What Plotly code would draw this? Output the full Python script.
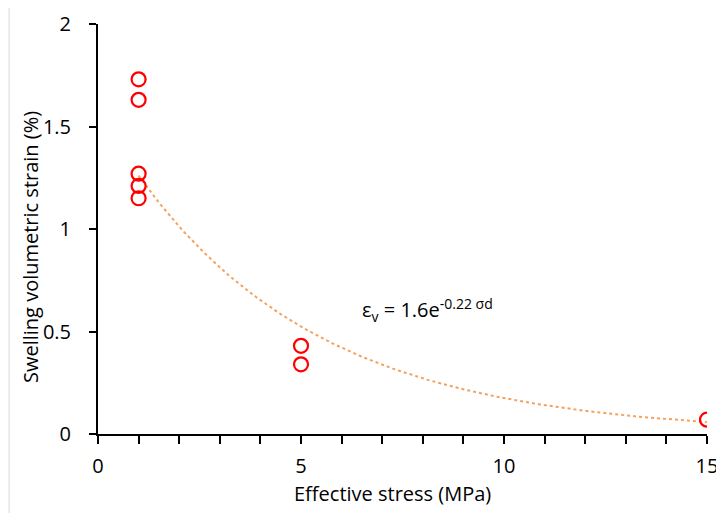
import numpy as np
import plotly.graph_objects as go

# Data
stress = [1, 1, 1, 1, 1, 5, 5, 15]
strain = [1.73, 1.63, 1.27, 1.21, 1.15, 0.43, 0.34, 0.07]
x_ticks = [0, 5, 10, 15]
y_ticks = [0, 0.5, 1, 1.5, 2]
y_tick_text = ["0", "0.5", "1", "1.5", "2"]

# Exponential trendline fitted to the data (as Excel does)
xs = np.array(stress, dtype=float)
ys = np.array(strain, dtype=float)
b, ln_a = np.polyfit(xs, np.log(ys), 1)
a = np.exp(ln_a)
fit_x = np.linspace(1, 15, 200)
fit_y = a * np.exp(b * fit_x)

font_family = "Open Sans"

fig = go.Figure()
fig.add_trace(go.Scatter(
    x=fit_x, y=fit_y, mode="lines",
    line=dict(color="#F4A15E", width=2, dash="dot"),
    hoverinfo="skip", showlegend=False))
fig.add_trace(go.Scatter(
    x=stress, y=strain, mode="markers",
    marker=dict(symbol="circle-open", size=14, color="#FF0000",
                line=dict(width=2.2, color="#FF0000")),
    showlegend=False))

fig.add_annotation(
    x=8.12, y=0.605, xref="x", yref="y",
    text="ε<sub>v</sub> = 1.6e<sup>-0.22 σd</sup>",
    showarrow=False, font=dict(family=font_family, size=20, color="#000000"))

# axis titles
fig.add_annotation(
    x=0.484, y=-0.146, xref="paper", yref="paper",
    text="Effective stress (MPa)", showarrow=False,
    xanchor="center", yanchor="middle",
    font=dict(family=font_family, size=20, color="#000000"))
fig.add_annotation(
    x=-0.1117, y=0.456, xref="paper", yref="paper",
    text="Swelling volumetric strain (%)", showarrow=False, textangle=-90,
    xanchor="center", yanchor="middle",
    font=dict(family=font_family, size=20, color="#000000"))

fig.add_shape(type="line", xref="paper", yref="paper",
              x0=-0.146, x1=-0.146, y0=-0.193, y1=1.039,
              line=dict(color="#D9D9D9", width=1))

fig.update_layout(
    width=716, height=505,
    margin=dict(l=90, r=17, t=16, b=79, autoexpand=False),
    paper_bgcolor="white", plot_bgcolor="white",
    font=dict(family=font_family, color="#000000"),
    xaxis=dict(
        range=[0, 15], tickvals=x_ticks, ticktext=[str(v) for v in x_ticks],
        showgrid=False, zeroline=False, showline=True,
        linecolor="#000000", linewidth=2,
        ticks="outside", ticklen=8, tickwidth=1.5, tickcolor="#000000",
        minor=dict(dtick=1, ticks="outside", ticklen=8, tickwidth=1.5,
                   tickcolor="#000000", showgrid=False),
        tickfont=dict(family=font_family, size=20),
        ticklabelstandoff=5,
        automargin=False,
    ),
    yaxis=dict(
        range=[0, 2], tickvals=y_ticks, ticktext=y_tick_text,
        showgrid=False, zeroline=False, showline=True,
        linecolor="#000000", linewidth=2,
        ticks="outside", ticklen=7, tickwidth=1.5, tickcolor="#000000",
        tickfont=dict(family=font_family, size=20),
        ticklabelstandoff=14,
        automargin=False,
    ),
)

fig.write_html("out.html")
